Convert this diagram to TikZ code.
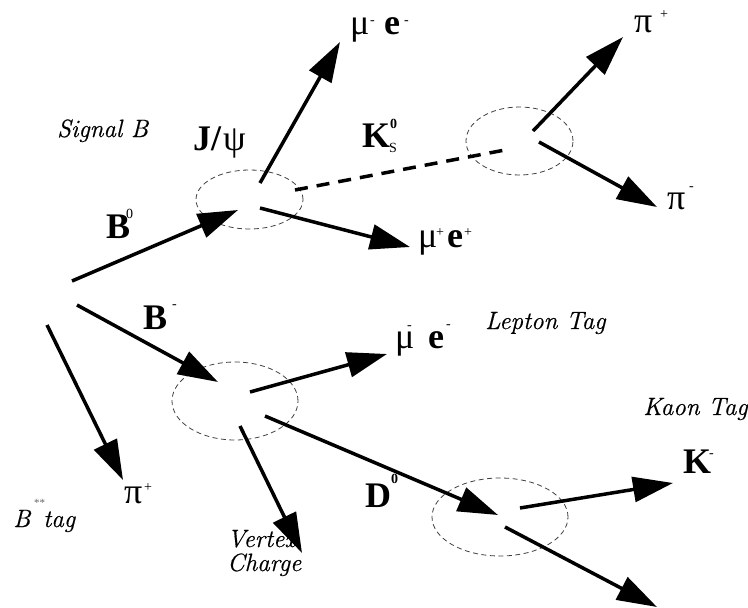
\documentclass[tikz,border=0pt]{standalone}
\usepackage{fontspec}
\newfontfamily\tms{Liberation Serif}
\newfontfamily\itf{Latin Modern Roman}[ItalicFeatures={FakeBold=0.5}]
\usetikzlibrary{arrows.meta,shapes.geometric}
\begin{document}
\begin{tikzpicture}[x=1pt,y=-1pt,
  arr/.style={line width=3.5pt,-{Triangle[length=40pt,width=25pt]}},
  vtx/.style={ellipse,draw=black!75,dash pattern=on 5pt off 3.5pt,line width=0.8pt,inner sep=0pt},
  big/.style={font=\tms\fontsize{36}{40}\selectfont,inner sep=0pt,anchor=base west},
  bigb/.style={big,font=\tms\bfseries\fontsize{36}{40}\selectfont},
  sm/.style={font=\tms\fontsize{14}{16}\selectfont,inner sep=0pt,anchor=base west},
  smb/.style={sm,font=\tms\bfseries\fontsize{14}{16}\selectfont},
  lbl/.style={font=\itf\itshape\fontsize{25}{27}\selectfont,inner sep=0pt,anchor=base west}]
\useasboundingbox (0,0) rectangle (748,608);
% vertex ellipses
\node[vtx,minimum width=107pt,minimum height=59pt] (jv) at (249.5,199.5) {};
\node[vtx,minimum width=107pt,minimum height=68pt] (kv) at (519.5,141) {};
\node[vtx,minimum width=126pt,minimum height=78pt] (bv) at (235,401) {};
\node[vtx,minimum width=136pt,minimum height=78pt] (dv) at (500,517) {};
% coordinates
\coordinate (p0) at (72,281);
\coordinate (b0t) at (238,210);
\coordinate (j1) at (260,183);
\coordinate (mumt) at (340,42);
\coordinate (j2) at (260,208);
\coordinate (mupt) at (410,247);
\coordinate (ks0) at (295,190);
\coordinate (ks1) at (505,150);
\coordinate (k1) at (533,131);
\coordinate (pipt) at (623,37);
\coordinate (k2) at (539,142);
\coordinate (pimt) at (657,207);
\coordinate (p1) at (77,305);
\coordinate (bmt) at (218,382);
\coordinate (p2) at (47,325);
\coordinate (pi2t) at (123,480);
\coordinate (b1) at (240,426);
\coordinate (vct) at (302,553);
\coordinate (b2) at (250,392);
\coordinate (mu2t) at (387,354);
\coordinate (b3) at (265,416);
\coordinate (d0t) at (498,515);
\coordinate (d1) at (520,508);
\coordinate (kmt) at (673,483);
\coordinate (d2) at (505,527);
\coordinate (d2t) at (657,607);
% arrows
\draw[arr] (p0) -- (b0t);
\draw[arr] (j1) -- (mumt);
\draw[arr] (j2) -- (mupt);
\draw[line width=3.5pt,dash pattern=on 13pt off 9pt] (ks0) -- (ks1);
\draw[arr] (k1) -- (pipt);
\draw[arr] (k2) -- (pimt);
\draw[arr] (p1) -- (bmt);
\draw[arr] (p2) -- (pi2t);
\draw[arr] (b1) -- (vct);
\draw[arr] (b2) -- (mu2t);
\draw[arr] (b3) -- (d0t);
\draw[arr] (d1) -- (kmt);
\draw[arr] (d2) -- (d2t);
% particle labels
\node[bigb] (lb0) at (106,238) {B};
\node[sm] (lb0s) at (126,218) {0};
\node[big] (ljp) at (193,150) {\bfseries J/\mdseries\kern2pt ψ};
\node[bigb] (lks) at (362,147) {K};
\node[sm] (lkss) at (389,152) {S};
\node[smb] (lksp) at (390,128) {0};
\node[big] (lmu1) at (350,34) {μ};
\node[sm] (lmu1s) at (370,24) {-};
\node[bigb] (le1) at (384,34) {e};
\node[sm] (le1s) at (404,24) {-};
\node[big] (lmu2) at (418,247) {μ};
\node[sm] (lmu2s) at (436,236) {+};
\node[bigb] (le2) at (447,247) {e};
\node[sm] (le2s) at (464,236) {+};
\node[big] (lpi1) at (634,32) {π};
\node[sm] (lpi1s) at (660,18) {+};
\node[big] (lpi2) at (667,209) {π};
\node[sm] (lpi2s) at (689,190) {-};
\node[bigb] (lbm) at (143,329) {B};
\node[sm] (lbms) at (172,308) {-};
\node[big] (lpi3) at (124,503) {π};
\node[sm] (lpi3s) at (144,491) {+};
\node[big] (lmu3) at (395,348) {μ};
\node[sm] (lmu3s) at (407,329) {-};
\node[bigb] (le3) at (428,348) {e};
\node[sm] (le3s) at (446,328) {-};
\node[bigb] (lk) at (683,473) {K};
\node[sm] (lks2) at (709,457) {-};
\node[bigb] (ld) at (365,507) {D};
\node[smb] (lds) at (391,483) {0};
% italic labels
\node[lbl] (sig) at (57,137) {Signal B};
\node[lbl] (lep) at (485,329) {Lepton Tag};
\node[lbl] (kaon) at (643,415) {Kaon Tag};
\node[lbl] (bss) at (13,527) {B};
\node[font=\tms\fontsize{11}{12}\selectfont,text=black!60,inner sep=0pt,anchor=base west] (bsss) at (34,506) {**};
\node[lbl] (tag) at (43,527) {tag};
\node[lbl] (vtxl) at (227,547) {Vertex};
\node[lbl] (chg) at (227,571) {Charge};
\end{tikzpicture}
\end{document}
